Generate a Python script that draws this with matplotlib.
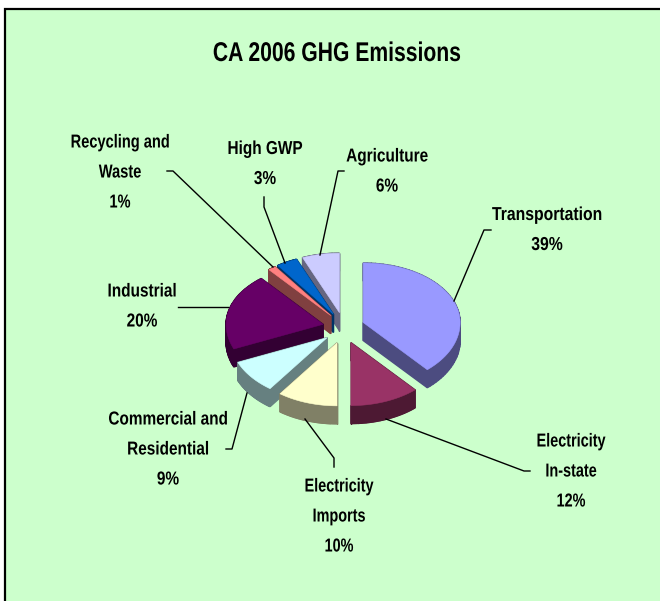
import numpy as np
import matplotlib
matplotlib.use('Agg')
import matplotlib.pyplot as plt
import matplotlib.patheffects as pe
from matplotlib.patches import Rectangle
from matplotlib.transforms import Affine2D

# clockwise from 12 o'clock
names = ['Transportation', 'Electricity\nIn-state', 'Electricity\nImports',
         'Commercial and\nResidential', 'Industrial', 'Recycling and\nWaste',
         'High GWP', 'Agriculture']
shares = [38.5, 11.5, 10.0, 8.6, 20.4, 1.3, 3.5, 6.2]
pct_labels = ['39%', '12%', '10%', '9%', '20%', '1%', '3%', '6%']

top_colors = ['#9999FF', '#993366', '#FFFFCC', '#CCFFFF', '#660066', '#FF8080', '#0066CC', '#CCCCFF']
side_colors = ['#4C4C80', '#4D1933', '#808066', '#668080', '#330033', '#804040', '#003366', '#666680']

# geometry in image pixels
cx, cy = 343.5, 328
rx = 97
ry_back, ry_front = 59.5, 63
ex, ey = 21, 15.6
depth = 18

label_xy = [(547, 230.5), (571, 472), (339, 517), (168, 450), (142, 307), (120, 173), (265, 164.5), (387, 172)]
label_squeeze = [0.84, 0.77, 0.77, 0.82, 0.82, 0.78, 0.82, 0.82]
leaders = [[(454, 301), (484, 230), (491, 230)],
           [(386, 419), (524, 471), (530, 471)],
           [(305, 419), (334, 458), (334, 467)],
           [(247, 393), (232, 449), (226, 449)],
           [(228, 307), (178, 307)],
           [(273, 267), (173, 171), (167, 171)],
           [(285, 263), (264, 207), (264, 197)],
           [(320, 255), (338, 171), (344, 171)]]


# the original font is a squeezed Arial, no narrow face is installed
class Squeeze(pe.AbstractPathEffect):
    def __init__(self, sx, x0):
        super().__init__()
        self.sx = sx
        self.x0 = x0

    def draw_path(self, renderer, gc, tpath, affine, rgbFace=None):
        t = affine + Affine2D().translate(-self.x0, 0).scale(self.sx, 1).translate(self.x0, 0)
        renderer.draw_path(gc, tpath, t, rgbFace)


plt.rcParams['font.family'] = ['Liberation Sans', 'DejaVu Sans']
fig = plt.figure(figsize=(6.6, 6.01), dpi=100)
ax = fig.add_axes([0, 0, 1, 1])
ax.set_xlim(0, 660)
ax.set_ylim(601, 0)
ax.axis('off')

ax.add_patch(Rectangle((5, 9), 670, 610, fc='#CCFFCC', ec='black', lw=1.6))


def slice_points(start, end):
    t = np.radians(np.linspace(start, end, 60))
    mid = np.radians((start + end) / 2)
    ax0 = cx + ex * np.sin(mid)
    ay0 = cy - ey * np.cos(mid)
    c = np.cos(t)
    ry = np.where(c > 0, ry_back, ry_front)
    xs = np.r_[ax0, ax0 + rx * np.sin(t), ax0]
    ys = np.r_[ay0, ay0 - ry * c, ay0]
    return xs, ys


edges = np.r_[0, np.cumsum(shares)] * 3.6
# back slices first so the front ones cover them
order = [7, 6, 5, 4, 3, 0, 1, 2]
for i in order:
    xs, ys = slice_points(edges[i], edges[i + 1])
    for k in range(len(xs) - 1):
        ax.fill([xs[k], xs[k + 1], xs[k + 1], xs[k]],
                [ys[k], ys[k + 1], ys[k + 1] + depth, ys[k] + depth],
                fc=side_colors[i], ec=side_colors[i], lw=1.0, zorder=2)
    ax.fill(xs, ys, fc=top_colors[i], ec=top_colors[i], lw=0.4, zorder=2)

for pts in leaders:
    p = np.array(pts)
    ax.plot(p[:, 0], p[:, 1], color='black', lw=1.0, zorder=3)

ax.text(337, 54, 'CA 2006 GHG Emissions', ha='center', va='center',
        fontsize=19.5, fontweight='bold', color='black',
        path_effects=[Squeeze(0.78, 337)])
for name, pct, (x, y), sq in zip(names, pct_labels, label_xy, label_squeeze):
    ax.text(x, y, name + '\n' + pct, ha='center', va='center', fontsize=13.5,
            fontweight='bold', color='black', linespacing=2.0,
            path_effects=[Squeeze(sq, x)])

fig.savefig('out.png', dpi=100, facecolor='white')
